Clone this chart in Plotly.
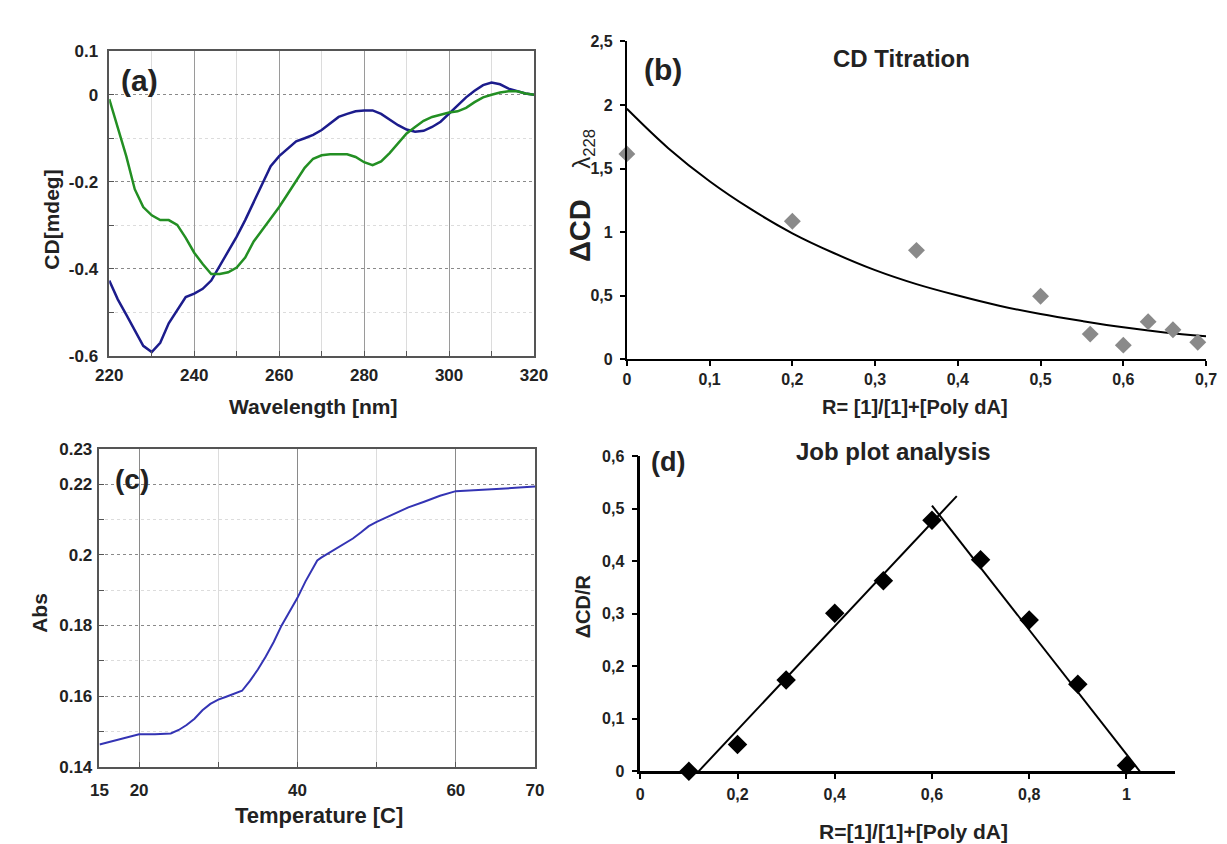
import plotly.graph_objects as go

W, H = 1227, 844
FONT = "Liberation Sans, Arial, sans-serif"

# ---------------- (a) CD spectra ----------------
wl = [220, 222, 224, 226, 228, 230, 232, 234, 236, 238, 240, 242, 244, 246, 248, 250,
      252, 254, 256, 258, 260, 262, 264, 266, 268, 270, 272, 274, 276, 278, 280, 282,
      284, 286, 288, 290, 292, 294, 296, 298, 300, 302, 304, 306, 308, 310, 312, 314,
      316, 318, 320]
cd_blue = [-0.427, -0.47, -0.505, -0.54, -0.577, -0.591, -0.57, -0.525, -0.495, -0.465,
           -0.457, -0.446, -0.427, -0.393, -0.36, -0.326, -0.288, -0.247, -0.205, -0.164,
           -0.141, -0.123, -0.107, -0.1, -0.092, -0.081, -0.066, -0.051, -0.044, -0.038,
           -0.036, -0.036, -0.044, -0.057, -0.07, -0.08, -0.085, -0.083, -0.074, -0.062,
           -0.044, -0.025, -0.006, 0.009, 0.022, 0.028, 0.024, 0.014, 0.008, 0.003, 0.0]
cd_green = [-0.01, -0.074, -0.141, -0.217, -0.258, -0.277, -0.288, -0.288, -0.299, -0.329,
            -0.363, -0.389, -0.412, -0.412, -0.408, -0.397, -0.374, -0.337, -0.311, -0.284,
            -0.258, -0.228, -0.198, -0.168, -0.147, -0.139, -0.137, -0.137, -0.137, -0.143,
            -0.155, -0.162, -0.153, -0.134, -0.111, -0.089, -0.074, -0.06, -0.051, -0.046,
            -0.041, -0.038, -0.03, -0.017, -0.006, 0.0, 0.005, 0.008, 0.008, 0.003, 0.0]
a_xticks = [220, 240, 260, 280, 300, 320]
a_yticks = [0.1, 0, -0.2, -0.4, -0.6]
a_yticklabels = ["0.1", "0", "-0.2", "-0.4", "-0.6"]

# ---------------- (b) CD titration ----------------
b_R = [0, 0.2, 0.35, 0.5, 0.56, 0.6, 0.63, 0.66, 0.69]
b_dCD = [1.615, 1.085, 0.856, 0.495, 0.197, 0.11, 0.295, 0.231, 0.133]
b_fit_x = [0, 0.05, 0.1, 0.15, 0.2, 0.25, 0.3, 0.35, 0.4, 0.45, 0.5, 0.55, 0.6, 0.65, 0.7]
b_fit_y = [1.97, 1.66, 1.40, 1.18, 0.99, 0.835, 0.70, 0.59, 0.50, 0.42, 0.355, 0.30, 0.25, 0.21, 0.18]
b_xticks = [0, 0.1, 0.2, 0.3, 0.4, 0.5, 0.6, 0.7]
b_xticklabels = ["0", "0,1", "0,2", "0,3", "0,4", "0,5", "0,6", "0,7"]
b_yticks = [0, 0.5, 1, 1.5, 2, 2.5]
b_yticklabels = ["0", "0,5", "1", "1,5", "2", "2,5"]

# ---------------- (c) melting curve ----------------
temp = [15, 17, 19, 20, 22, 24, 25, 26, 27, 28, 29, 30, 31, 32, 33, 34, 35, 36, 37, 38,
        39, 40, 41, 42, 42.5, 43, 44, 45, 46, 47, 48, 49, 50, 52, 54, 56, 58, 60, 62, 64,
        66, 68, 70]
absorb = [0.1463, 0.1475, 0.1488, 0.1492, 0.1492, 0.1494, 0.1504, 0.1518, 0.1536, 0.156,
          0.1578, 0.159, 0.1598, 0.1606, 0.1615, 0.1643, 0.1675, 0.1712, 0.1753, 0.18,
          0.1837, 0.1878, 0.1924, 0.1966, 0.1984, 0.1992, 0.2005, 0.2019, 0.2033, 0.2046,
          0.2063, 0.2081, 0.2093, 0.2114, 0.2134, 0.215, 0.2167, 0.218, 0.2182, 0.2185,
          0.2187, 0.219, 0.2193]
c_xticks = [15, 20, 40, 60, 70]
c_yticks = [0.14, 0.16, 0.18, 0.2, 0.22, 0.23]
c_yticklabels = ["0.14", "0.16", "0.18", "0.2", "0.22", "0.23"]

# ---------------- (d) Job plot ----------------
d_R = [0.1, 0.2, 0.3, 0.4, 0.5, 0.6, 0.7, 0.8, 0.9, 1.0]
d_val = [0.0, 0.051, 0.174, 0.301, 0.363, 0.478, 0.403, 0.288, 0.166, 0.011]
d_left_x = [0.12, 0.651]
d_left_y = [0.0, 0.524]
d_right_x = [0.600, 1.0275]
d_right_y = [0.506, 0.0]
d_xticks = [0, 0.2, 0.4, 0.6, 0.8, 1.0]
d_xticklabels = ["0", "0,2", "0,4", "0,6", "0,8", "1"]
d_yticks = [0, 0.1, 0.2, 0.3, 0.4, 0.5, 0.6]
d_yticklabels = ["0", "0,1", "0,2", "0,3", "0,4", "0,5", "0,6"]


def fx(p):
    return p / W


def fy(p):
    return 1 - p / H


fig = go.Figure()
fig.add_trace(go.Scatter(x=wl, y=cd_blue, mode="lines", line=dict(color="#1c1c8c", width=2.5),
                         xaxis="x", yaxis="y", showlegend=False))
fig.add_trace(go.Scatter(x=wl, y=cd_green, mode="lines", line=dict(color="#238f23", width=2.5),
                         xaxis="x", yaxis="y", showlegend=False))
fig.add_trace(go.Scatter(x=b_fit_x, y=b_fit_y, mode="lines", line=dict(color="black", width=2, shape="spline"),
                         xaxis="x2", yaxis="y2", showlegend=False))
fig.add_trace(go.Scatter(x=b_R, y=b_dCD, mode="markers", cliponaxis=False,
                         marker=dict(symbol="diamond", size=13, color="#8a8a8a"),
                         xaxis="x2", yaxis="y2", showlegend=False))
fig.add_trace(go.Scatter(x=temp, y=absorb, mode="lines", line=dict(color="#3434b4", width=2),
                         xaxis="x3", yaxis="y3", showlegend=False))
fig.add_trace(go.Scatter(x=d_left_x, y=d_left_y, mode="lines", line=dict(color="black", width=2),
                         xaxis="x4", yaxis="y4", showlegend=False, cliponaxis=False))
fig.add_trace(go.Scatter(x=d_right_x, y=d_right_y, mode="lines", line=dict(color="black", width=2),
                         xaxis="x4", yaxis="y4", showlegend=False, cliponaxis=False))
fig.add_trace(go.Scatter(x=d_R, y=d_val, mode="markers", cliponaxis=False,
                         marker=dict(symbol="diamond", size=15, color="black"),
                         xaxis="x4", yaxis="y4", showlegend=False))

tick_bold = dict(family=FONT, size=17, color="#222", weight="bold")
tick_bd = dict(family=FONT, size=16, color="#222", weight="bold")

boxed = dict(showline=True, mirror=True, linecolor="#555", linewidth=1.5, zeroline=False,
             ticks="inside", ticklen=5, tickcolor="#555", showgrid=True)

fig.update_layout(
    width=W, height=H, autosize=False,
    margin=dict(l=0, r=0, t=0, b=0),
    paper_bgcolor="white", plot_bgcolor="white",
    font=dict(family=FONT, color="#222"),
    xaxis=dict(domain=[fx(89.3), fx(524)], range=[220, 320], anchor="y",
               tickvals=a_xticks, tickfont=tick_bold, gridcolor="#9a9a9a",
               minor=dict(tickvals=[230, 250, 270, 290, 310], showgrid=True, gridcolor="#dcdcdc",
                          ticks="inside", ticklen=5, tickcolor="#555"),
               ticklabelstandoff=3, **boxed),
    yaxis=dict(domain=[fy(346.7), fy(35)], range=[-0.6, 0.1], anchor="x",
               tickvals=a_yticks, ticktext=a_yticklabels, tickfont=tick_bold,
               gridcolor="#8a8a8a", griddash="dot",
               minor=dict(tickvals=[-0.5, -0.3, -0.1], showgrid=True, gridcolor="#dcdcdc",
                          ticks="inside", ticklen=5, tickcolor="#555"),
               ticklabelstandoff=6, **boxed),
    xaxis2=dict(domain=[fx(619), fx(1211.7)], range=[0, 0.7], anchor="y2",
                tickvals=b_xticks, ticktext=b_xticklabels, tickfont=tick_bd,
                showline=True, linecolor="black", linewidth=2, ticks="outside", ticklen=5,
                tickwidth=2, tickcolor="black", showgrid=False, zeroline=False, ticklabelstandoff=0),
    yaxis2=dict(domain=[fy(350), fy(25)], range=[0, 2.5], anchor="x2",
                tickvals=b_yticks, ticktext=b_yticklabels, tickfont=tick_bd,
                showline=True, linecolor="black", linewidth=2, ticks="outside", ticklen=5,
                tickwidth=2, tickcolor="black", showgrid=False, zeroline=False, ticklabelstandoff=4),
    xaxis3=dict(domain=[fx(79.3), fx(525)], range=[15, 70], anchor="y3",
                tickvals=c_xticks, tickfont=tick_bold, gridcolor="#8a8a8a",
                minor=dict(tickvals=[30, 50], showgrid=True, gridcolor="#dcdcdc",
                           ticks="inside", ticklen=5, tickcolor="#555"),
                ticklabelstandoff=7, **boxed),
    yaxis3=dict(domain=[fy(767), fy(441.7)], range=[0.14, 0.23], anchor="x3",
                tickvals=c_yticks, ticktext=c_yticklabels, tickfont=tick_bold,
                gridcolor="#8a8a8a", griddash="dot",
                minor=dict(tickvals=[0.15, 0.17, 0.19, 0.21], showgrid=True, gridcolor="#dcdcdc",
                           ticks="inside", ticklen=5, tickcolor="#555"),
                ticklabelstandoff=2, **boxed),
    xaxis4=dict(domain=[fx(632.7), fx(1180)], range=[0, 1.1], anchor="y4",
                tickvals=d_xticks, ticktext=d_xticklabels, tickfont=tick_bd,
                showline=True, linecolor="black", linewidth=2.5, ticks="outside", ticklen=5,
                tickwidth=2, tickcolor="black", showgrid=False, zeroline=False, ticklabelstandoff=2),
    yaxis4=dict(domain=[fy(771.7), fy(449.3)], range=[0, 0.6], anchor="x4",
                tickvals=d_yticks, ticktext=d_yticklabels, tickfont=tick_bd,
                showline=True, linecolor="black", linewidth=2.5, ticks="outside", ticklen=6,
                tickwidth=2, tickcolor="black", showgrid=False, zeroline=False, ticklabelstandoff=4),
)


def ann(text, x, y, size, angle=0, bold=True):
    fig.add_annotation(text=text, x=fx(x), y=fy(y), xref="paper", yref="paper",
                       showarrow=False, textangle=angle, xanchor="center", yanchor="middle",
                       font=dict(family=FONT, size=size, color="#222",
                                 weight="bold" if bold else "normal"))


ann("(a)", 120, 65, 30)
ann("CD[mdeg]", 30, 207, 21, -90)
ann("Wavelength [nm]", 298, 398, 21)

ann("(b)", 656, 54, 30)
ann("CD Titration", 900, 42, 24)
ann("R= [1]/[1]+[Poly dA]", 914, 399, 20)
ann("ΔCD", 571, 218, 29, -90)
ann("λ<sub>228</sub>", 575, 135, 24, -90, bold=False)

ann("(c)", 113, 473, 28)
ann("Abs", 18, 610, 21, -90)
ann("Temperature [C]", 304, 817, 22)

ann("(d)", 661, 455, 27)
ann("Job plot analysis", 892, 445, 24)
ann("ΔCD/R", 575, 603, 20, -90)
ann("R=[1]/[1]+[Poly dA]", 912, 833, 21)

fig.write_html("out.html")
